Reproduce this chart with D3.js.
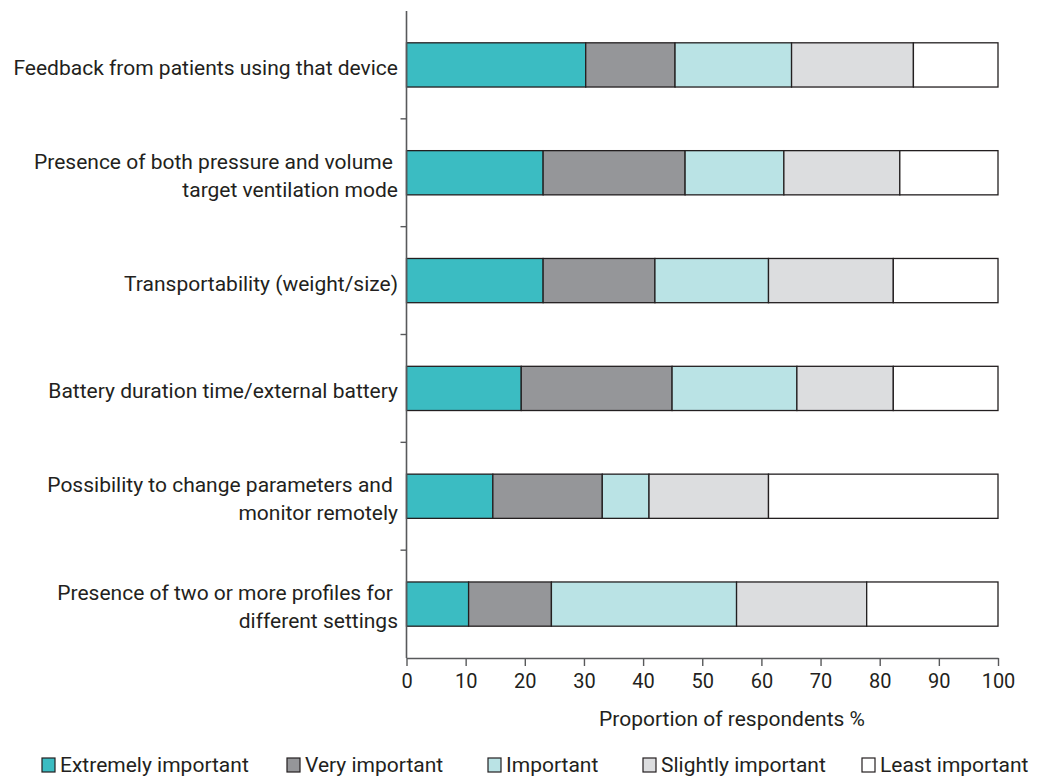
<!DOCTYPE html>
<html>
<head>
<meta charset="utf-8">
<script src="https://cdn.jsdelivr.net/npm/d3@7"></script>
<style>
  html, body { margin: 0; padding: 0; background: #ffffff; }
  svg { display: block; }
  text { font-family: Roboto, "Noto Sans", sans-serif; fill: #231f20; }
</style>
</head>
<body>
<svg id="chart" width="1043" height="778"></svg>
<script>
// ---------- data ----------
const categories = [
  "Feedback from patients using that device",
  "Presence of both pressure and volume target ventilation mode",
  "Transportability (weight/size)",
  "Battery duration time/external battery",
  "Possibility to change parameters and monitor remotely",
  "Presence of two or more profiles for different settings"
];
const categoryLines = [
  ["Feedback from patients using that device"],
  ["Presence of both pressure and volume ", "target ventilation mode"],
  ["Transportability (weight/size)"],
  ["Battery duration time/external battery"],
  ["Possibility to change parameters and ", "monitor remotely"],
  ["Presence of two or more profiles for ", "different settings"]
];
const seriesNames = ["Extremely important", "Very important", "Important", "Slightly important", "Least important"];
const extremelyImportant = [30.3, 23.1, 23.1, 19.4, 14.6, 10.5];
const veryImportant      = [15.1, 24.0, 18.9, 25.5, 18.5, 14.0];
const important          = [19.7, 16.7, 19.2, 21.1,  7.9, 31.3];
const slightlyImportant  = [20.6, 19.6, 21.1, 16.3, 20.2, 22.0];
const leastImportant     = [14.3, 16.6, 17.7, 17.7, 38.8, 22.2];
const xTicks = [0, 10, 20, 30, 40, 50, 60, 70, 80, 90, 100];
const xTitle = "Proportion of respondents %";
const colors = ["#3bbcc2", "#959699", "#bae3e5", "#dcdddf", "#ffffff"];

// ---------- build ----------
const seriesValues = [extremelyImportant, veryImportant, important, slightlyImportant, leastImportant];
const rows = categories.map((c, i) => {
  const r = { category: c };
  seriesNames.forEach((s, j) => { r[s] = seriesValues[j][i]; });
  return r;
});
const stacked = d3.stack().keys(seriesNames)(rows);

const svg = d3.select("#chart");
const x = d3.scaleLinear().domain([0, 100]).range([406.5, 998]);
const y = d3.scaleBand().domain(categories).range([11, 658]).paddingInner(0.59).paddingOuter(0.295);
const color = d3.scaleOrdinal().domain(seriesNames).range(colors);

// bars
svg.append("g").selectAll("g")
  .data(stacked).join("g")
  .attr("fill", d => color(d.key))
  .selectAll("rect")
  .data(d => d).join("rect")
  .attr("x", d => x(d[0]))
  .attr("y", d => y(d.data.category))
  .attr("width", d => x(d[1]) - x(d[0]))
  .attr("height", y.bandwidth())
  .attr("stroke", "#231f20")
  .attr("stroke-width", 1.3);

// y axis line
svg.append("line")
  .attr("x1", x(0)).attr("x2", x(0))
  .attr("y1", 11).attr("y2", 658)
  .attr("stroke", "#58595b").attr("stroke-width", 1.6);

// y ticks between categories
const bounds = categories.slice(1).map(c => y(c) - y.step() * y.paddingInner() / 2);
svg.append("g").selectAll("line")
  .data(bounds).join("line")
  .attr("x1", x(0) - 6).attr("x2", x(0))
  .attr("y1", d => d).attr("y2", d => d)
  .attr("stroke", "#58595b").attr("stroke-width", 1.4);

// category labels
const labels = svg.append("g").selectAll("text")
  .data(categories).join("text")
  .attr("text-anchor", "end")
  .style("font-size", "21px")
  .style("white-space", "pre");
labels.each(function(c, i) {
  const lines = categoryLines[i];
  const cy = y(c) + y.bandwidth() / 2;
  const t = d3.select(this);
  if (lines.length === 1) {
    t.append("tspan").attr("x", 398).attr("y", cy + 10).text(lines[0]);
  } else {
    t.append("tspan").attr("x", 398).attr("y", cy - 4).text(lines[0]);
    t.append("tspan").attr("x", 398).attr("y", cy + 24).text(lines[1]);
  }
});

// x axis
const xAxis = d3.axisBottom(x).tickValues(xTicks).tickSize(8).tickPadding(8).tickSizeOuter(0);
const gx = svg.append("g").attr("transform", "translate(0,658)").call(xAxis);
gx.select(".domain").attr("stroke", "#58595b").attr("stroke-width", 1.6);
gx.selectAll(".tick line").attr("stroke", "#58595b").attr("stroke-width", 1.4);
gx.selectAll(".tick text")
  .style("font-family", "Roboto, sans-serif")
  .style("font-size", "20px")
  .attr("fill", "#231f20");

// x title
svg.append("text")
  .attr("x", 732).attr("y", 726)
  .attr("text-anchor", "middle")
  .style("font-size", "21px")
  .text(xTitle);

// legend
const legendX = [42, 287, 488, 643, 862];
const lg = svg.append("g").selectAll("g")
  .data(seriesNames).join("g")
  .attr("transform", (d, i) => `translate(${legendX[i]},758)`);
lg.append("rect")
  .attr("width", 13).attr("height", 14)
  .attr("fill", d => color(d))
  .attr("stroke", "#231f20").attr("stroke-width", 1.2);
lg.append("text")
  .attr("x", 18).attr("y", 14)
  .style("font-size", "21px")
  .text(d => d);
</script>
</body>
</html>
